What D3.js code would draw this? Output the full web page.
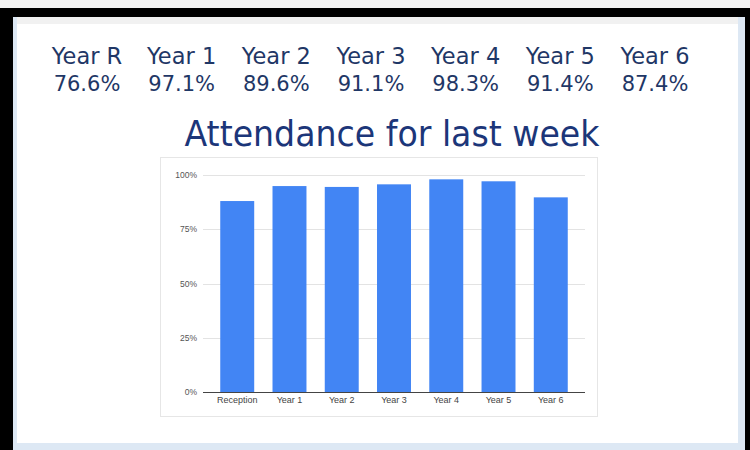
<!DOCTYPE html>
<html><head><meta charset="utf-8">
<script src="https://cdn.jsdelivr.net/npm/d3@7"></script>
<style>html,body{margin:0;padding:0;background:#fff;}svg{display:block;}</style>
</head><body>
<script>
const headerYears = ["Year R","Year 1","Year 2","Year 3","Year 4","Year 5","Year 6"];
const headerValues = ["76.6%","97.1%","89.6%","91.1%","98.3%","91.4%","87.4%"];
const titleText = "Attendance for last week";
const categories = ["Reception","Year 1","Year 2","Year 3","Year 4","Year 5","Year 6"];
const values = [88.0, 94.9, 94.5, 95.7, 98.0, 97.1, 89.7];
const yTicks = [0, 25, 50, 75, 100];

const W = 750, H = 450;
const svg = d3.select("body").append("svg").attr("width", W).attr("height", H);

// frame
svg.append("rect").attr("x",0).attr("y",0).attr("width",W).attr("height",H).attr("fill","#f4f4f4");
svg.append("rect").attr("x",0).attr("y",8).attr("width",W).attr("height",H-8).attr("fill","#000");
svg.append("rect").attr("x",13).attr("y",17).attr("width",732).attr("height",H-17).attr("fill","#dde8f4");
svg.append("rect").attr("x",17).attr("y",17).attr("width",721).attr("height",426).attr("fill","#fff");
svg.append("rect").attr("x",17).attr("y",17).attr("width",721).attr("height",7).attr("fill","#f1f1f1");

// header
const hx = d3.scalePoint().domain(headerYears).range([87, 655]);
const navy = "#1f3766";
svg.append("g").selectAll("text").data(headerYears).join("text")
  .attr("x", d => hx(d)).attr("y", 64).attr("text-anchor","middle")
  .attr("font-family","DejaVu Sans").attr("font-size",22.5).attr("fill",navy)
  .text(d => d);
svg.append("g").selectAll("text").data(headerValues).join("text")
  .attr("x", (d,i) => hx(headerYears[i])).attr("y", 91).attr("text-anchor","middle")
  .attr("font-family","DejaVu Sans").attr("font-size",21).attr("fill",navy)
  .text(d => d);

// title
svg.append("text").attr("x", 392).attr("y", 146).attr("text-anchor","middle")
  .attr("font-family","DejaVu Sans").attr("font-size",35).attr("fill","#1c3679")
  .attr("textLength",415).attr("lengthAdjust","spacingAndGlyphs")
  .text(titleText);

// chart card
svg.append("rect").attr("x",160.5).attr("y",157.5).attr("width",437).attr("height",259)
  .attr("fill","#fff").attr("stroke","#e6e6e6").attr("stroke-width",1);

const x = d3.scaleBand().domain(categories).range([203, 585]).paddingInner(0.35).paddingOuter(0.33);
const y = d3.scaleLinear().domain([0, 100]).range([392, 175]);

const grid = svg.append("g");
grid.selectAll("line").data(yTicks.filter(t => t > 0)).join("line")
  .attr("x1",203).attr("x2",585).attr("y1", d => Math.round(y(d))+0.5).attr("y2", d => Math.round(y(d))+0.5)
  .attr("stroke","#e3e3e3").attr("stroke-width",1);

const yAxis = svg.append("g").attr("transform","translate(203,0)")
  .call(d3.axisLeft(y).tickValues(yTicks).tickFormat(d => d + "%").tickSize(0).tickPadding(6));
yAxis.select(".domain").remove();
yAxis.selectAll("text").attr("font-family","Liberation Sans, Arial").attr("font-size",8.5).attr("fill","#555");

svg.append("g").selectAll("rect").data(values).join("rect")
  .attr("x", (d,i) => x(categories[i])).attr("width", x.bandwidth())
  .attr("y", d => y(d)).attr("height", d => y(0) - y(d)).attr("fill","#4285f4");

const xAxis = svg.append("g").attr("transform","translate(0,392)")
  .call(d3.axisBottom(x).tickSize(0).tickPadding(5));
xAxis.select(".domain").attr("stroke","#444").attr("d","M203,0.5H585");
xAxis.selectAll("text").attr("font-family","Liberation Sans, Arial").attr("font-size",9).attr("fill","#444");
</script>
</body></html>
